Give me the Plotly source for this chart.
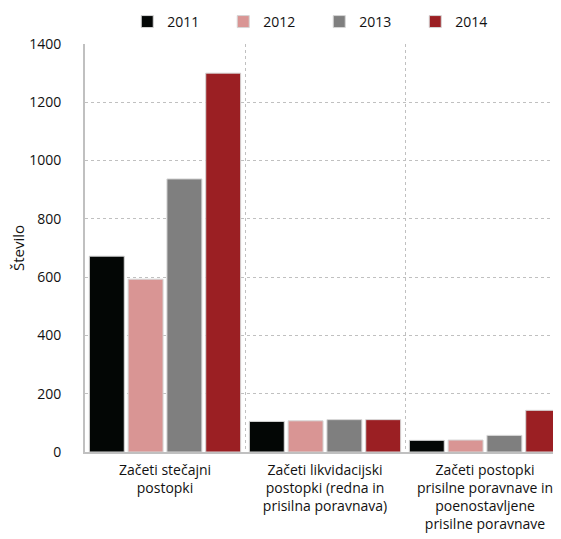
import plotly.graph_objects as go

categories = [
    "Začeti stečajni<br>postopki",
    "Začeti likvidacijski<br>postopki (redna in<br>prisilna poravnava)",
    "Začeti postopki<br>prisilne poravnave in<br>poenostavljene<br>prisilne poravnave",
]
years = ["2011", "2012", "2013", "2014"]
values_2011 = [672, 105, 40]
values_2012 = [593, 107, 41]
values_2013 = [937, 111, 57]
values_2014 = [1300, 111, 143]
colors = ["#030605", "#d99594", "#7f7f7f", "#9b1f23"]

series = [values_2011, values_2012, values_2013, values_2014]

fig = go.Figure()
for name, vals, col in zip(years, series, colors):
    fig.add_trace(go.Bar(
        name=name, x=categories, y=vals,
        marker=dict(color=col, line=dict(color="#d6d6d6", width=1)),
    ))

font_family = "Open Sans, sans-serif"
fig.update_layout(
    width=561, height=539,
    margin=dict(l=77, r=4, t=36, b=95, autoexpand=False),
    paper_bgcolor="white", plot_bgcolor="white",
    barmode="group", bargap=0.03, bargroupgap=0.1,
    font=dict(family=font_family, size=14, color="#111111"),
    showlegend=True,
    legend=dict(
        orientation="h", x=0.088, xanchor="left", y=1.054, yanchor="middle",
        entrywidth=51, entrywidthmode="pixels",
        font=dict(size=14), itemwidth=30, bgcolor="rgba(0,0,0,0)",
    ),
    xaxis=dict(
        range=[-0.5, 2.5], tickson="boundaries", showgrid=True,
        gridcolor="#c0c0c0", griddash="dot", gridwidth=1,
        showline=True, linecolor="#c0c0c0", linewidth=2,
        ticks="", tickfont=dict(size=14), automargin=False,
        ticklabelstandoff=4,
    ),
    yaxis=dict(
        range=[0, 1400], dtick=200, showgrid=True,
        gridcolor="#c0c0c0", griddash="dot", gridwidth=1,
        showline=True, linecolor="#c0c0c0", linewidth=2,
        zeroline=False, ticks="", ticklabelstandoff=19,
        tickfont=dict(size=14), automargin=False,
        title=dict(text="Število", font=dict(size=15), standoff=11),
    ),
)

fig.write_html("out.html")
